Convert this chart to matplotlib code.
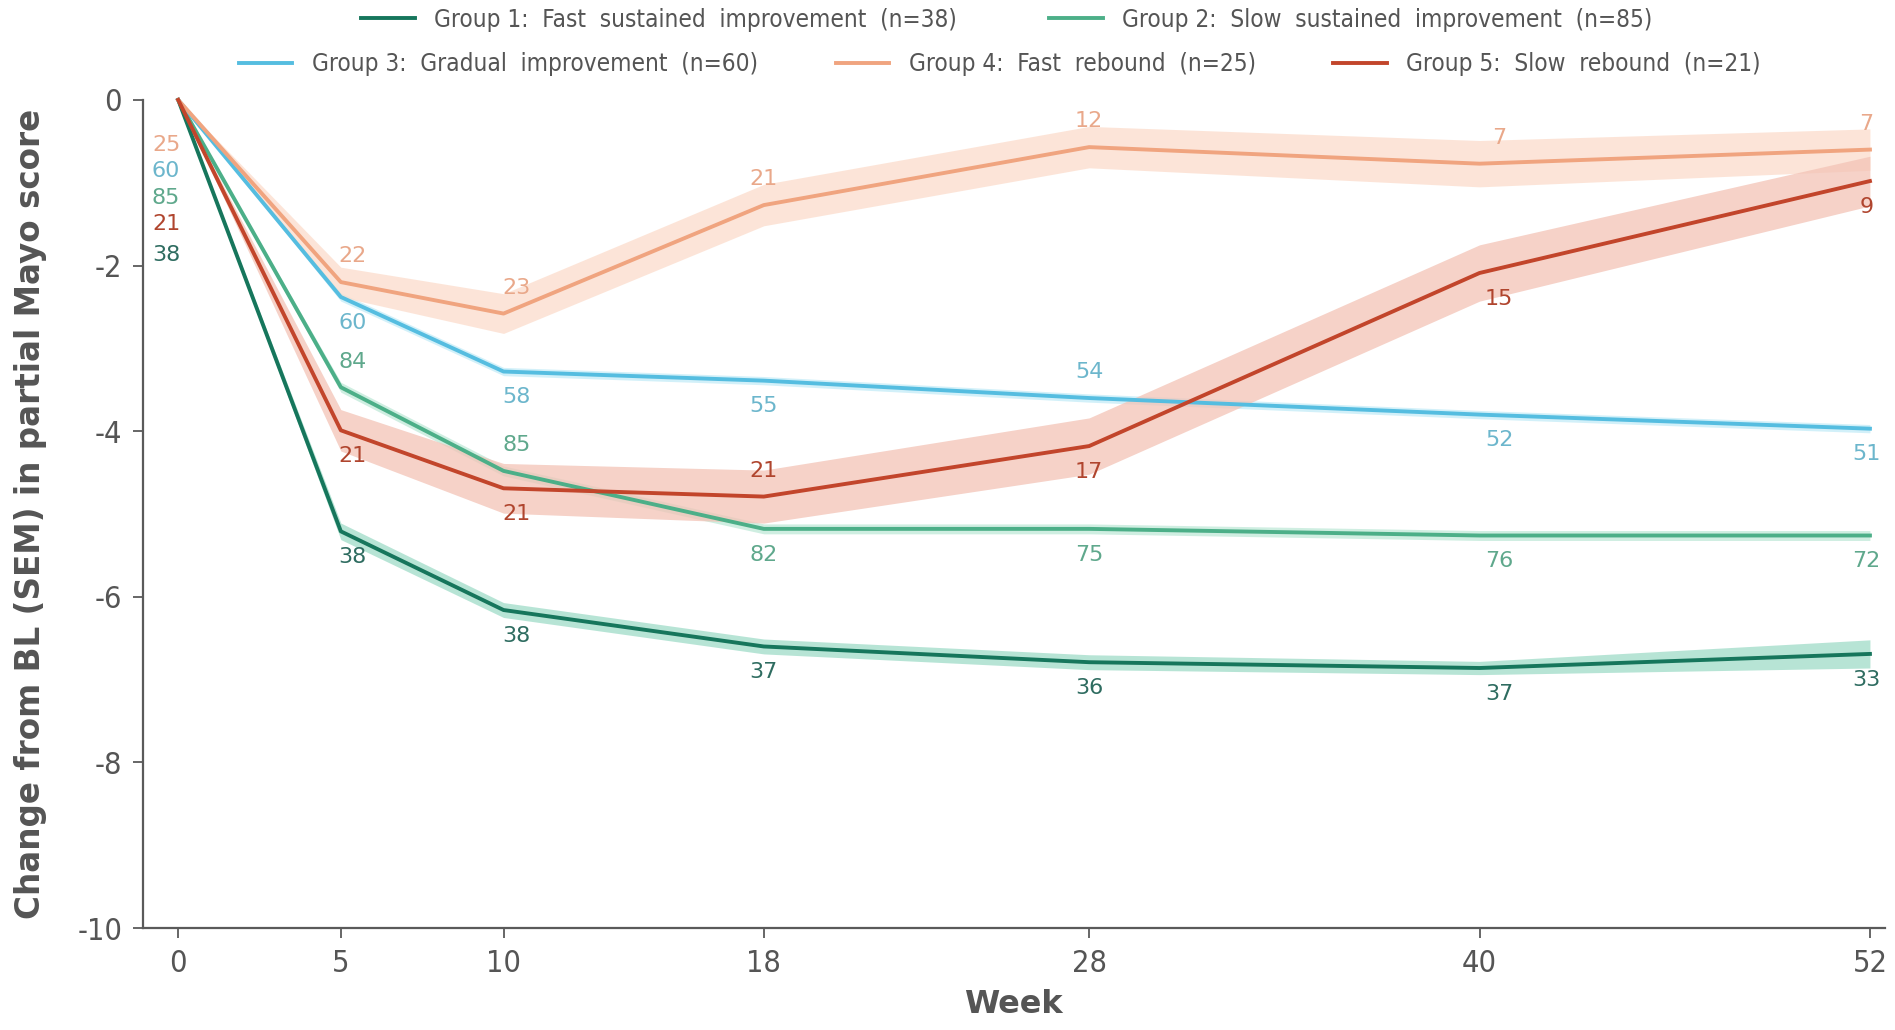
import numpy as np
import matplotlib
matplotlib.use("Agg")
import matplotlib.pyplot as plt

# Week of assessment
weeks = [0, 5, 10, 18, 28, 40, 52]

# Mean change from baseline in partial Mayo score, per trajectory group
g1_mean = [0, -5.21, -6.16, -6.60, -6.79, -6.86, -6.69]
g2_mean = [0, -3.47, -4.48, -5.18, -5.18, -5.26, -5.26]
g3_mean = [0, -2.38, -3.28, -3.39, -3.60, -3.80, -3.97]
g4_mean = [0, -2.20, -2.58, -1.27, -0.57, -0.77, -0.60]
g5_mean = [0, -3.99, -4.69, -4.79, -4.18, -2.09, -0.98]

# Standard error of the mean
g1_sem = [0, 0.10, 0.09, 0.09, 0.09, 0.08, 0.17]
g2_sem = [0, 0.06, 0.06, 0.06, 0.06, 0.06, 0.06]
g3_sem = [0, 0.05, 0.05, 0.05, 0.05, 0.05, 0.05]
g4_sem = [0, 0.18, 0.24, 0.25, 0.25, 0.28, 0.25]
g5_sem = [0, 0.25, 0.30, 0.32, 0.34, 0.34, 0.30]

# Patients with data at each week
g1_n = [38, 38, 38, 37, 36, 37, 33]
g2_n = [85, 84, 85, 82, 75, 76, 72]
g3_n = [60, 60, 58, 55, 54, 52, 51]
g4_n = [25, 22, 23, 21, 12, 7, 7]
g5_n = [21, 21, 21, 21, 17, 15, 9]

group_names = [
    "Group 1:  Fast  sustained  improvement  (n=38)",
    "Group 2:  Slow  sustained  improvement  (n=85)",
    "Group 3:  Gradual  improvement  (n=60)",
    "Group 4:  Fast  rebound  (n=25)",
    "Group 5:  Slow  rebound  (n=21)",
]

means = [g1_mean, g2_mean, g3_mean, g4_mean, g5_mean]
sems = [g1_sem, g2_sem, g3_sem, g4_sem, g5_sem]
counts = [g1_n, g2_n, g3_n, g4_n, g5_n]

line_colors = ["#16765c", "#4caf88", "#55bde0", "#f0a47f", "#c2452b"]
band_colors = ["#9fdcc8", "#bfe9d8", "#c4ecf7", "#fcdccb", "#f3c3b6"]
text_colors = ["#2e6c60", "#5fa88c", "#6cb6cc", "#e9a88a", "#b0452e"]

# which side of the line the n label sits on (+1 above, -1 below), weeks 5..52
label_side = [
    [-1, -1, -1, -1, -1, -1],
    [1, 1, -1, -1, -1, -1],
    [-1, -1, -1, 1, -1, -1],
    [1, 1, 1, 1, 1, 1],
    [-1, -1, 1, -1, -1, -1],
]
label_dx = [0.35, 0.4, 0.0, 0.0, 0.6, -0.1]
label_dy = 0.31

# week-0 counts are stacked left of the start point
stack_order = [3, 2, 1, 4, 0]
stack_y = [-0.54, -0.86, -1.18, -1.50, -1.87]

axis_grey = "#5a5a5a"

fig = plt.figure(figsize=(18.95, 10.30), dpi=100)
ax = fig.add_axes([0.0755, 0.099, 0.919, 0.804])

for i in range(5):
    m = np.array(means[i])
    s = np.array(sems[i])
    ax.fill_between(weeks, m - s, m + s, color=band_colors[i], alpha=0.75,
                    lw=0, zorder=1)
for i in range(5):
    ax.plot(weeks, means[i], color=line_colors[i], lw=2.8, zorder=3,
            clip_on=False, label=group_names[i], solid_joinstyle="round")

for i in range(5):
    for k in range(1, len(weeks)):
        ax.text(weeks[k] + label_dx[k - 1],
                means[i][k] + label_side[i][k - 1] * label_dy,
                str(counts[i][k]), color=text_colors[i], fontsize=16,
                ha="center", va="center", zorder=4)

for pos, i in enumerate(stack_order):
    ax.text(-0.37, stack_y[pos], str(counts[i][0]), color=text_colors[i],
            fontsize=16, ha="center", va="center")

ax.set_xlim(-1.08, 52.45)
ax.set_ylim(-10, 0)
ax.set_xticks(weeks)
ax.set_xticklabels([str(w) for w in weeks])
yt = [0, -2, -4, -6, -8, -10]
ax.set_yticks(yt)
ax.set_yticklabels([str(v) for v in yt])

for side in ["top", "right"]:
    ax.spines[side].set_visible(False)
for side in ["left", "bottom"]:
    ax.spines[side].set_color(axis_grey)
    ax.spines[side].set_linewidth(1.6)
ax.tick_params(axis="both", colors=axis_grey, length=7, width=1.3,
               labelsize=22, pad=8)
for lab in ax.get_xticklabels() + ax.get_yticklabels():
    lab.set_fontstretch("condensed")
    lab.set_color("#555555")

ax.set_ylabel("Change from BL (SEM) in partial Mayo score", fontsize=23.5,
              fontweight="bold", color="#555555")
ax.yaxis.set_label_coords(-0.055, 0.5)
ax.set_xlabel("Week", fontsize=23, fontweight="bold", color="#555555")
ax.xaxis.set_label_coords(0.5, -0.074)

handles, labels = ax.get_legend_handles_labels()
leg_font = {"size": 17.5, "stretch": "condensed"}
leg1 = ax.legend(handles[:2], labels[:2], ncol=2, loc="center",
                 bbox_to_anchor=(0.496, 1.097), frameon=False, prop=leg_font,
                 handlelength=2.2, columnspacing=3.8, handletextpad=0.8,
                 labelcolor="#555555")
ax.add_artist(leg1)
ax.legend(handles[2:], labels[2:], ncol=3, loc="center",
          bbox_to_anchor=(0.492, 1.043), frameon=False, prop=leg_font,
          handlelength=2.2, columnspacing=3.2, handletextpad=0.8,
          labelcolor="#555555")

fig.savefig("out.png", dpi=100)
